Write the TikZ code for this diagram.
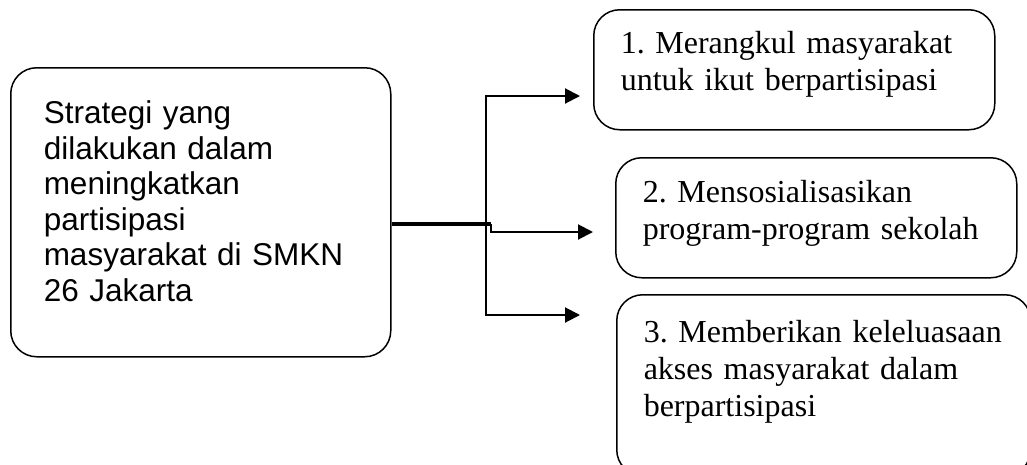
\documentclass[tikz,border=0pt]{standalone}
\usepackage{fontspec}
\setmainfont{Liberation Serif}
\newfontfamily\arialfont{Liberation Sans}
\usetikzlibrary{arrows.meta}
\frenchspacing
\hyphenpenalty=10000
\exhyphenpenalty=10000
\hbadness=10000
\hfuzz=100pt

\begin{document}
\begin{tikzpicture}[x=1pt,y=-1pt,
  box/.style={draw, line width=1.5pt, rounded corners=26pt, anchor=north west,
    inner ysep=0pt, align=left},
  itemfont/.style={font=\fontsize{32}{37}\selectfont},
  mainfont/.style={font=\arialfont\fontsize{31.5}{35.5}\selectfont},
  arrowlink/.style={line width=2pt, -{Triangle[length=15pt,width=15pt]}},
  trunk/.style={line width=4pt}]
  \useasboundingbox (0,0) rectangle (1027,464);
  \clip (0,0) rectangle (1027,464);

  % central topic
  \node[box, mainfont, inner xsep=33pt, text width=314pt,
        text height=56pt, text depth=233pt] (main) at (10,67)
    {Strategi yang\\dilakukan dalam\\meningkatkan\\partisipasi\\masyarakat di SMKN\\26 Jakarta};

  % strategies
  \node[box, itemfont, inner xsep=27pt, text width=347pt,
        text height=44pt, text depth=76pt] (s1) at (593,9)
    {1. Merangkul masyarakat\\untuk ikut berpartisipasi};
  \node[box, itemfont, inner xsep=27pt, text width=347pt,
        text height=45pt, text depth=75pt] (s2) at (615,157)
    {2. Mensosialisasikan\\program-program sekolah};
  \node[box, itemfont, inner xsep=27pt, text width=360pt,
        text height=48pt, text depth=133pt] (s3) at (616,294)
    {\mbox{3. Memberikan keleluasaan}\\akses masyarakat dalam\\berpartisipasi};

  % branching connectors
  \coordinate (j) at (486,224);
  \coordinate (k) at (491,224);
  \coordinate (t1) at (580,96);
  \coordinate (t2) at (593,232);
  \coordinate (t3) at (580,315);

  \draw[trunk] (main.east |- j) -- (k);
  \draw[arrowlink] (j) |- (t1);
  \draw[arrowlink] (j) |- (t3);
  \draw[arrowlink] (k) |- (t2);
\end{tikzpicture}
\end{document}
